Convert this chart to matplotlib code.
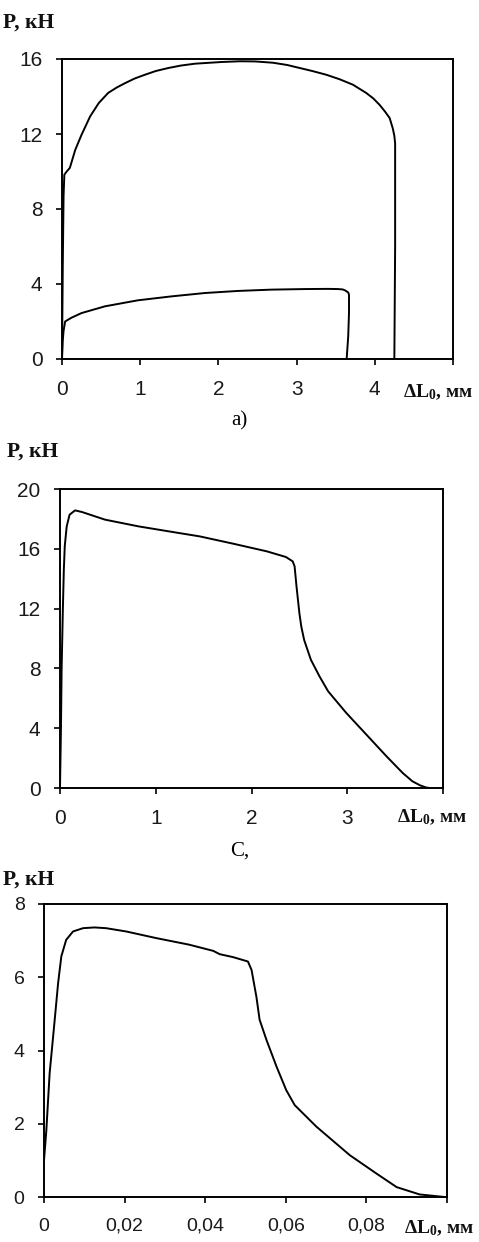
import matplotlib
matplotlib.use('Agg')
import matplotlib.pyplot as plt

# --- data ---
# panel a) : two curves
a_up_x = [0, 0.01, 0.02, 0.03, 0.06, 0.10, 0.17, 0.25, 0.36, 0.47, 0.59, 0.70, 0.81, 0.93,
          1.06, 1.20, 1.36, 1.52, 1.70, 2.04, 2.28, 2.47, 2.70, 2.88, 3.04, 3.20, 3.38,
          3.55, 3.72, 3.89, 3.98, 4.06, 4.13, 4.19, 4.23, 4.25, 4.26, 4.26, 4.25]
a_up_y = [0, 5.0, 8.7, 9.83, 10.0, 10.19, 11.16, 11.96, 12.94, 13.65, 14.19, 14.48, 14.72,
          14.96, 15.16, 15.36, 15.52, 15.65, 15.75, 15.84, 15.88, 15.87, 15.8, 15.68,
          15.52, 15.36, 15.16, 14.92, 14.63, 14.19, 13.9, 13.56, 13.2, 12.85, 12.3, 11.9,
          11.5, 6.0, 0]
a_low_x = [0, 0.01, 0.02, 0.04, 0.12, 0.25, 0.55, 0.97, 1.40, 1.83, 2.25, 2.68, 3.10, 3.40,
           3.53, 3.59, 3.62, 3.66, 3.67, 3.67, 3.66, 3.64]
a_low_y = [0, 1.0, 1.5, 2.0, 2.2, 2.45, 2.81, 3.13, 3.34, 3.52, 3.63, 3.70, 3.73, 3.74,
           3.73, 3.71, 3.66, 3.55, 3.43, 2.45, 1.2, 0]

# panel b)
b_x = [0, 0.01, 0.017, 0.03, 0.04, 0.05, 0.07, 0.10, 0.157, 0.23, 0.47, 0.82, 1.20, 1.46,
       1.81, 2.16, 2.36, 2.43, 2.45, 2.47, 2.50, 2.52, 2.55, 2.62, 2.71, 2.80, 2.99, 3.20,
       3.41, 3.58, 3.68, 3.76, 3.82, 3.86]
b_y = [0, 4.0, 8.0, 12.0, 14.6, 16.2, 17.5, 18.28, 18.57, 18.46, 17.95, 17.5, 17.1, 16.83,
       16.34, 15.83, 15.45, 15.16, 14.83, 13.49, 11.7, 10.8, 9.9, 8.58, 7.47, 6.47, 5.02,
       3.57, 2.12, 1.0, 0.45, 0.18, 0.04, 0]

# panel c)
c_x = [0, 0.00058, 0.0014, 0.00265, 0.0035, 0.0043, 0.0055, 0.0072, 0.0097, 0.0125, 0.0154,
       0.0204, 0.0278, 0.036, 0.042, 0.0436, 0.0469, 0.0506, 0.0515, 0.0527, 0.0535, 0.0552,
       0.0577, 0.0601, 0.0622, 0.0676, 0.0759, 0.0825, 0.0875, 0.0932, 0.0994]
c_y = [1.0, 1.82, 3.38, 4.83, 5.84, 6.57, 7.02, 7.25, 7.34, 7.36, 7.34, 7.25, 7.07, 6.89,
       6.72, 6.63, 6.55, 6.43, 6.2, 5.47, 4.84, 4.29, 3.56, 2.92, 2.51, 1.92, 1.14, 0.64,
       0.27, 0.07, 0]

a_xticks = [0, 1, 2, 3, 4, 5]
a_xlabels = ['0', '1', '2', '3', '4', '']
a_yticks = [0, 4, 8, 12, 16]
b_xticks = [0, 1, 2, 3, 4]
b_xlabels = ['0', '1', '2', '3', '']
b_yticks = [0, 4, 8, 12, 16, 20]
c_xticks = [0, 0.02, 0.04, 0.06, 0.08, 0.1]
c_xlabels = ['0', '0,02', '0,04', '0,06', '0,08', '']
c_yticks = [0, 2, 4, 6, 8]

W, H = 479, 1242
fig = plt.figure(figsize=(W / 100, H / 100), dpi=100)
fig.patch.set_facecolor('white')

plt.rcParams['mathtext.fontset'] = 'custom'
plt.rcParams['mathtext.rm'] = 'Liberation Serif'
plt.rcParams['mathtext.bf'] = 'Liberation Serif:bold'
plt.rcParams['mathtext.it'] = 'Liberation Serif:italic'


def px_axes(l, t, r, b):
    return fig.add_axes([l / W, 1 - b / H, (r - l) / W, (b - t) / H])


def style(ax, xt, xl, yt, xlim, ylim, fs):
    ax.set_xlim(*xlim)
    ax.set_ylim(*ylim)
    ax.set_xticks(xt)
    ax.set_xticklabels(xl)
    ax.set_yticks(yt)
    ax.set_yticklabels([str(v) for v in yt])
    for s in ax.spines.values():
        s.set_linewidth(1.4)
        s.set_color('black')
    ax.tick_params(direction='out', length=4, width=1.2, labelsize=fs,
                   labelcolor='#1a1a1a')
    ax.tick_params(axis='x', pad=11)
    ax.tick_params(axis='y', pad=10)
    for lab in ax.get_xticklabels() + ax.get_yticklabels():
        lab.set_family('Liberation Sans')


lw = 1.4

ax1 = px_axes(62, 59, 453, 359)
ax1.plot(a_up_x, a_up_y, color='black', lw=lw)
ax1.plot(a_low_x, a_low_y, color='black', lw=lw)
style(ax1, a_xticks, a_xlabels, a_yticks, (0, 5), (0, 16), 15)

ax2 = px_axes(60, 489, 443, 788)
ax2.plot(b_x, b_y, color='black', lw=lw)
style(ax2, b_xticks, b_xlabels, b_yticks, (0, 4), (0, 20), 15)

ax3 = px_axes(44, 904, 447, 1197)
ax3.plot(c_x, c_y, color='black', lw=lw)
style(ax3, c_xticks, c_xlabels, c_yticks, (0, 0.1), (0, 8), 14)

lab_kw = dict(family='Liberation Serif', weight='bold', fontsize=15.5, color='#111111')
ylab = 'P, кН'
xlab = r'$\mathbf{\Delta L_0}$, мм'

for (x, y) in [(3, 23), (7, 452), (3, 880)]:
    fig.text(x / W, 1 - y / H, ylab, ha='left', va='center', **lab_kw)
for (x, y) in [(403, 392), (397, 817), (404, 1228)]:
    fig.text(x / W, 1 - y / H, xlab, ha='left', va='center',
             family='Liberation Serif', weight='bold', fontsize=14, color='#111111')

fig.text(239 / W, 1 - 421 / H, 'а)', ha='center', va='center',
         family='Liberation Serif', fontsize=15, color='black')
fig.text(240 / W, 1 - 851 / H, 'С,', ha='center', va='center',
         family='Liberation Serif', fontsize=15, color='black')

fig.savefig('out.png', dpi=100)
